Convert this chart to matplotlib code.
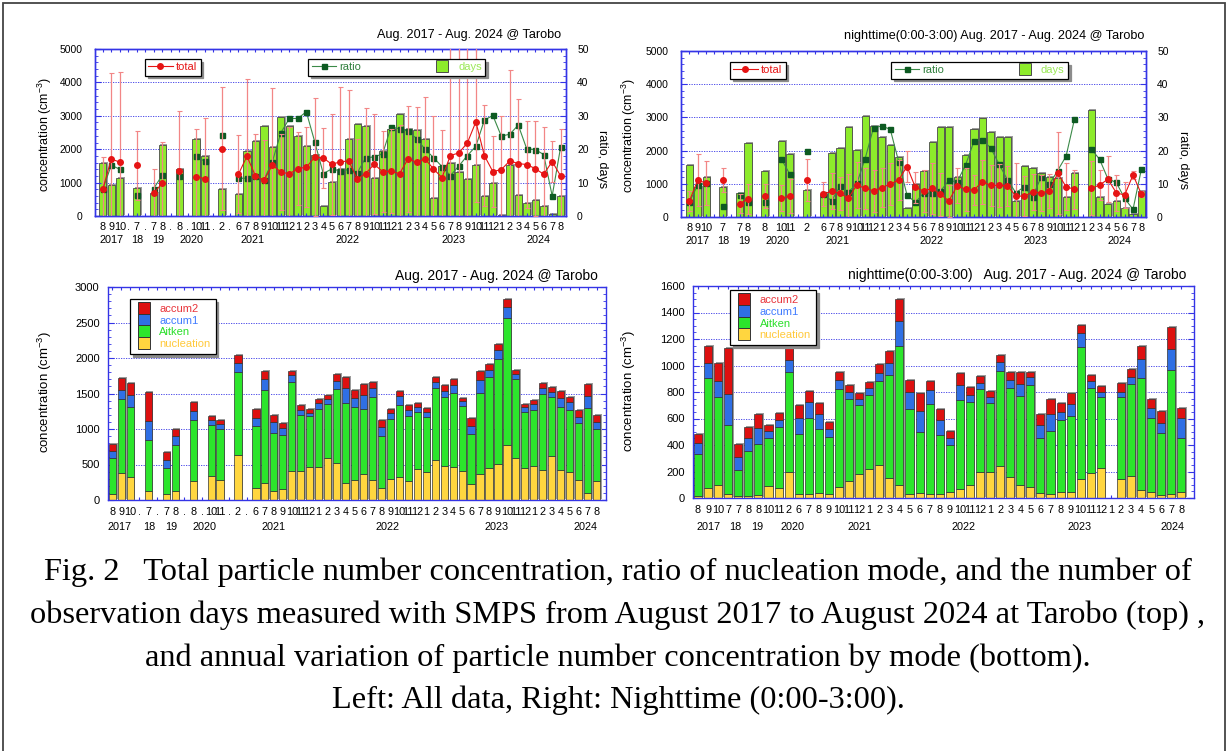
import numpy as np
import matplotlib
matplotlib.use('Agg')
import matplotlib.pyplot as plt
import matplotlib.transforms as mtransforms
from matplotlib.lines import Line2D
from matplotlib.patches import Rectangle
from matplotlib.ticker import MultipleLocator

plt.rcParams['font.family'] = ['Liberation Sans', 'DejaVu Sans']
plt.rcParams['mathtext.default'] = 'regular'

nan = np.nan

# month slots, '.' marks skipped months (55 slots, top + bottom-left)
months_all = ['8', '9', '10', '.', '7', '.', '7', '8', '.', '8', '.', '10', '11', '.', '2', '.',
              '6', '7', '8', '9', '10', '11', '12',
              '1', '2', '3', '4', '5', '6', '7', '8', '9', '10', '11', '12',
              '1', '2', '3', '4', '5', '6', '7', '8', '9', '10', '11', '12',
              '1', '2', '3', '4', '5', '6', '7', '8']
months_night = [m if m != '.' else '' for m in months_all]
# bottom-right has no gap slots (49 slots)
months_br = ['8', '9', '10', '7', '7', '8', '8', '10', '11', '2',
             '6', '7', '8', '9', '10', '11', '12',
             '1', '2', '3', '4', '5', '6', '7', '8', '9', '10', '11', '12',
             '1', '2', '3', '4', '5', '6', '7', '8', '9', '10', '11', '12',
             '1', '2', '3', '4', '5', '6', '7', '8']

years_tl = [(1.0, '2017'), (4.06, '18'), (6.5, '19'), (10.5, '2020'), (17.7, '2021'),
            (28.9, '2022'), (41.4, '2023'), (51.4, '2024')]
years_bl = [(0.76, '2017'), (4.16, '18'), (6.6, '19'), (10.3, '2020'), (18.0, '2021'),
            (30.7, '2022'), (42.8, '2023'), (52.8, '2024')]
years_br = [(1.0, '2017'), (3.7, '18'), (5.9, '19'), (9.4, '2020'), (16.0, '2021'),
            (26.4, '2022'), (37.9, '2023'), (47.1, '2024')]

# ---- top left: all data ----
days_all = [16, 9.3, 11.5, nan, 8.5, nan, 7, 21.4, nan, 14.1, nan, 23, 18, nan, 8.1, nan,
            6.7, 19.5, 22.5, 27, 20.7, 29.5, 26.8,
            24.1, 20.9, 18.2, 3, 10.2, 14, 23, 27.4, 26.8, 11.5, 19.6, 25.9,
            30.4, 25.9, 25.8, 23.2, 5.4, 15, 15.9, 13.1, 11.1, 15.4, 6.1, 10,
            0.3, 15.4, 6.4, 4, 4.9, 3, 0.7, 6]
total_all = [800, 1710, 1610, nan, 1520, nan, 680, 980, nan, 1350, nan, 1180, 1120, nan, 2020, nan,
             1250, 1790, 1200, 1070, 1520, 1320, 1260,
             1420, 1460, 1760, 1740, 1550, 1620, 1650, 1110, 1270, 1550, 1330, 1340,
             1270, 1710, 1610, 1710, 1410, 1150, 1810, 1890, 2190, 2820, 1810, 1330,
             1390, 1650, 1570, 1540, 1420, 1250, 1630, 1200]
total_all_err = [970, 2570, 2700, nan, 1030, nan, 720, 1240, nan, 1780, nan, 1430, 1820, nan, 1830, nan,
                 1170, 2310, 1260, 1200, 2310, 1150, 1410,
                 1100, 1200, 1770, 900, 1510, 2240, 2120, 1200, 1970, 1490, 1210, 1250,
                 1450, 1590, 1650, 1850, 1580, 1410, 3400, 3300, 3000, 2400, 1500, 1060,
                 1610, 2710, 1920, 1300, 1420, 1420, 610, 1390]
ratio_all = [8.0, 15.2, 14.0, nan, 6.2, nan, 8.2, 12.2, nan, 11.9, nan, 17.9, 16.4, nan, 24.2, nan,
             11.3, 11.3, 12.0, 10.8, 16.3, 24.9, 29.2,
             29.2, 31.2, 22.2, 12.7, 14.1, 13.5, 13.9, 12.9, 17.4, 17.7, 18.6, 26.7,
             26.1, 25.4, 23.2, 20.0, 17.5, 14.8, 12.1, 15.0, 18.1, 20.9, 28.7, 30.1,
             23.9, 24.5, 27.2, 20.1, 19.9, 18.4, 6.0, 20.7]

# ---- top right: nighttime ----
days_night = [15.7, 9.1, 11.9, nan, 9.1, nan, 7.3, 22.3, nan, 13.9, nan, 22.9, 19.0, nan, 8.1, nan,
              6.8, 19.3, 20.9, 27.0, 20.1, 30.4, 27.4,
              24.1, 21.8, 18.0, 2.7, 9.8, 13.9, 22.7, 27.0, 27.2, 12.0, 18.6, 26.6,
              29.9, 25.6, 24.0, 24.0, 4.9, 15.5, 14.9, 13.2, 11.9, 11.7, 5.9, 13.4,
              nan, 32.2, 6.1, 3.8, 4.9, 2.7, 1.0, 7.7]
total_night = [477, 1115, 1014, nan, 1115, nan, 405, 537, nan, 629, nan, 568, 629, nan, 1115, nan,
               690, 781, 710, 568, 963, 862, 791,
               882, 994, 1115, 1521, 892, 781, 862, 679, 487, 943, 831, 811,
               1065, 953, 953, 943, 629, 629, 750, 730, 781, 1318, 913, 831,
               nan, 862, 963, 1136, 730, 659, 1268, 690]
total_night_err = [293, 791, 659, nan, 375, nan, 275, 447, nan, 355, nan, 395, 507, nan, 629, nan,
                   354, 537, 486, 720, 690, 618, 629,
                   588, 628, 600, 456, 457, 639, 760, 639, 476, 527, 639, 457,
                   659, 619, 649, 600, 990, 600, 548, 550, 500, 1237, 700, 589,
                   nan, 811, 457, 689, 538, 400, 130, 100]
ratio_night = [4.5, 9.6, 10.3, nan, 3.2, nan, 6.6, 4.6, nan, 4.6, nan, 17.4, 12.9, nan, 19.9, nan,
               6.9, 4.9, 9.3, 7.5, 10.1, 17.6, 26.9,
               27.4, 26.4, 16.7, 6.6, 4.4, 7.3, 7.1, 7.8, 11.0, 10.6, 15.7, 22.8,
               23.3, 20.8, 15.9, 11.2, 7.3, 9.1, 6.1, 11.9, 9.8, 14.0, 18.3, 29.4,
               nan, 20.5, 17.4, 11.5, 10.4, 5.6, 2.3, 14.4]

# ---- bottom left: modes, all data ----
nuc_all = [80, 377, 320, nan, 122, nan, 85, 132, nan, 264, nan, 334, 278, nan, 631, nan,
           165, 235, 122, 151, 414, 414, 466,
           466, 589, 523, 235, 278, 367, 278, 174, 301, 325, 268, 433,
           400, 560, 476, 466, 405, 226, 363, 447, 504, 772, 589, 452,
           476, 419, 617, 419, 400, 278, 104, 268]
ait_all = [509, 1041, 989, nan, 726, nan, 372, 645, nan, 862, nan, 721, 725, nan, 1173, nan,
           871, 1310, 820, 763, 1253, 782, 712,
           815, 763, 1041, 1131, 1031, 909, 1168, 721, 834, 1013, 914, 810,
           768, 1018, 979, 1046, 919, 702, 1149, 1286, 1479, 1795, 1116, 791,
           791, 1069, 838, 886, 867, 810, 1191, 726]
acc1_all = [103, 127, 170, nan, 268, nan, 103, 118, nan, 132, nan, 71, 66, nan, 127, nan,
            118, 160, 155, 99, 90, 76, 47,
            80, 66, 108, 212, 132, 203, 132, 132, 85, 132, 90, 62,
            71, 85, 85, 113, 70, 113, 174, 99, 127, 155, 71, 62,
            80, 85, 62, 136, 113, 85, 170, 99]
acc2_all = [95, 174, 165, nan, 405, nan, 114, 103, nan, 127, nan, 52, 61, nan, 118, nan,
            122, 108, 104, 66, 66, 66, 61,
            61, 66, 104, 160, 109, 155, 85, 99, 61, 70, 66, 56,
            61, 66, 76, 85, 43, 113, 137, 80, 90, 113, 56, 47,
            66, 75, 70, 99, 71, 89, 174, 103]

# ---- bottom right: modes, nighttime ----
nuc_night = [13, 75, 100, 30, 13, 13, 20, 88, 75, 196,
             30, 30, 38, 30, 83, 128, 181,
             218, 251, 150, 95, 30, 38, 30, 30, 43, 70, 100, 196,
             196, 238, 158, 100, 80, 38, 30, 43, 48, 143, 188, 226,
             nan, 143, 166, 63, 43, 25, 30, 45]
ait_night = [318, 833, 665, 519, 195, 338, 389, 363, 459, 752,
             452, 572, 481, 429, 737, 617, 521,
             559, 632, 778, 1049, 640, 459, 677, 447, 358, 670, 627, 624,
             524, 720, 675, 670, 773, 416, 477, 546, 574, 993, 645, 539,
             nan, 617, 692, 845, 564, 464, 936, 406]
acc1_night = [83, 113, 120, 234, 100, 100, 118, 56, 53, 93,
              120, 120, 113, 58, 70, 53, 43,
              51, 57, 90, 195, 133, 163, 106, 112, 55, 113, 50, 50,
              40, 65, 57, 90, 62, 95, 125, 63, 85, 108, 50, 38,
              nan, 43, 55, 140, 75, 75, 158, 156]
acc2_night = [68, 123, 136, 346, 98, 83, 105, 45, 53, 88,
              100, 83, 85, 55, 63, 55, 45,
              47, 71, 91, 166, 90, 130, 67, 83, 46, 87, 61, 50,
              48, 55, 58, 88, 33, 86, 115, 63, 83, 65, 45, 42,
              nan, 67, 60, 98, 65, 96, 163, 75]

BLUE = '#3434E6'
DAYS_C = '#8DEB2B'
RED = '#E61414'
W, H = 1228, 751

fig = plt.figure(figsize=(W / 100, H / 100), dpi=100)


def px_axes(l, t, r, b):
    return fig.add_axes([l / W, 1 - b / H, (r - l) / W, (b - t) / H])


def blue_frame(a):
    for s in a.spines.values():
        s.set_color(BLUE)
        s.set_linewidth(1.0)


def month_axis(ax, labels, xlim, years, year_y, pad):
    ax.set_xlim(*xlim)
    ax.set_xticks(np.arange(len(labels)))
    ax.set_xticklabels(labels, fontsize=7.8)
    ax.tick_params(axis='x', direction='in', length=2.5, width=0.8, color=BLUE, top=True, pad=pad)
    tr = mtransforms.blended_transform_factory(ax.transData, ax.transAxes)
    for pos, yr in years:
        ax.text(pos, year_y, yr, transform=tr, ha='center', va='center', fontsize=7.8)


def top_panel(rect, labels, xlim, days, total, total_err, ratio, title, title_xy,
              years, leg1_x, leg2_x, leg_y, ylab_x, y2lab_x):
    ax = px_axes(*rect)
    ax2 = ax.twinx()
    ax.set_zorder(ax2.get_zorder() + 1)
    ax.patch.set_visible(False)
    x = np.arange(len(labels))
    days = np.asarray(days, float)
    ok = np.isfinite(days)
    sh = mtransforms.offset_copy(ax2.transData, fig=fig, x=1.5, y=1.0, units='dots')
    ax2.bar(x[ok], days[ok], 0.85, color='#9c9c9c', transform=sh, zorder=1)
    ax2.bar(x[ok], days[ok], 0.85, color=DAYS_C, edgecolor='#4a4a4a', linewidth=0.6, zorder=2)
    ax2.plot(x, ratio, color='#3b8a48', lw=0.8, marker='s', ms=3.6,
             mfc='#0d5a22', mec='#0d5a22', zorder=3)
    ax.errorbar(x, total, yerr=total_err, fmt='none', ecolor='#F28686',
                elinewidth=0.9, capsize=1.8, capthick=0.8, zorder=3)
    ax.plot(x, total, color=RED, lw=0.8, marker='o', ms=4, zorder=4)

    ax.set_ylim(0, 5000)
    ax2.set_ylim(0, 50)
    ax.yaxis.set_major_locator(MultipleLocator(1000))
    ax.yaxis.set_minor_locator(MultipleLocator(200))
    ax2.yaxis.set_major_locator(MultipleLocator(10))
    ax2.yaxis.set_minor_locator(MultipleLocator(2))
    ax2.set_axisbelow(True)
    ax2.yaxis.grid(True, which='major', color=BLUE, lw=0.6, ls=(0, (1.5, 1.5)))
    ax.tick_params(axis='y', which='both', direction='in', color=BLUE, labelsize=7.4, pad=9)
    ax.tick_params(axis='y', which='major', length=4, width=0.8)
    ax.tick_params(axis='y', which='minor', length=2, width=0.6)
    ax2.tick_params(axis='y', which='both', direction='in', color=BLUE, labelsize=7.4, pad=8)
    ax2.tick_params(axis='y', which='major', length=4, width=0.8)
    ax2.tick_params(axis='y', which='minor', length=2, width=0.6)
    blue_frame(ax)
    blue_frame(ax2)
    month_axis(ax, labels, xlim, years, -0.144, 4)

    ax.set_ylabel('concentration (cm$^{-3}$)', fontsize=9, va='center', ha='center')
    ax.yaxis.set_label_coords(ylab_x, 0.49)
    ax2.set_ylabel('ratio, days', fontsize=9, rotation=-90, va='center', ha='center')
    ax2.yaxis.set_label_coords(y2lab_x, 0.34)
    ax.text(title_xy[0], title_xy[1], title, transform=ax.transAxes,
            ha='right', va='center', fontsize=9.1)

    h_total = Line2D([], [], color=RED, lw=0.8, marker='o', ms=4)
    leg1 = ax.legend([h_total], ['total'], loc='upper left', bbox_to_anchor=(leg1_x, leg_y),
                     borderaxespad=0, fontsize=8, frameon=True, fancybox=False, framealpha=1,
                     edgecolor='black', shadow={'color': '0.55', 'alpha': 1},
                     handlelength=2.2, handletextpad=0.3, borderpad=0.3, labelcolor=RED)
    leg1.get_frame().set_linewidth(0.9)
    ax.add_artist(leg1)
    h_ratio = Line2D([], [], color='#3b8a48', lw=0.8, marker='s', ms=3.6, mfc='#0d5a22', mec='#0d5a22')
    h_days = Line2D([], [], ls='none', marker='s', ms=8, mfc=DAYS_C, mec='#4a4a4a', mew=0.7)
    leg2 = ax.legend([h_ratio, h_days], ['ratio', 'days'], ncol=2, loc='upper left',
                     bbox_to_anchor=(leg2_x, leg_y), borderaxespad=0, fontsize=8, frameon=True,
                     fancybox=False, framealpha=1, edgecolor='black',
                     shadow={'color': '0.55', 'alpha': 1}, handlelength=2.2, handletextpad=0.3,
                     borderpad=0.3, columnspacing=6.2)
    leg2.get_frame().set_linewidth(0.9)
    for t, c in zip(leg2.get_texts(), ['#2f7f3c', '#9BE857']):
        t.set_color(c)
    return ax


def mode_panel(rect, labels, xlim, parts, ymax, major, minor, title, title_xy,
               years, year_y, leg_xy, ylab_x):
    ax = px_axes(*rect)
    x = np.arange(len(labels))
    parts = [np.asarray(p, float) for p in parts]
    tops = np.cumsum(parts, axis=0)
    ok = np.isfinite(tops[-1])
    sh = mtransforms.offset_copy(ax.transData, fig=fig, x=1.5, y=1.0, units='dots')
    ax.bar(x[ok], tops[-1][ok], 0.8, color='#9c9c9c', transform=sh, zorder=1)
    colors = ['#FFD63F', '#2CE52C', '#2F6FE4', '#DD1010']
    bottom = np.zeros(ok.sum())
    for p, c in zip(parts, colors):
        ax.bar(x[ok], p[ok], 0.8, bottom=bottom, color=c, edgecolor='#333333',
               linewidth=0.5, zorder=2)
        bottom = bottom + p[ok]

    ax.set_ylim(0, ymax)
    ax.yaxis.set_major_locator(MultipleLocator(major))
    ax.yaxis.set_minor_locator(MultipleLocator(minor))
    ax.set_axisbelow(True)
    ax.yaxis.grid(True, which='major', color=BLUE, lw=0.6, ls=(0, (1.5, 1.5)))
    ax.tick_params(axis='y', which='both', direction='in', color=BLUE, labelsize=8, pad=6,
                   right=True)
    ax.tick_params(axis='y', which='major', length=4, width=0.8)
    ax.tick_params(axis='y', which='minor', length=2, width=0.6)
    blue_frame(ax)
    month_axis(ax, labels, xlim, years, year_y, 5)

    ax.set_ylabel('concentration (cm$^{-3}$)', fontsize=9.5, va='center', ha='center')
    ax.yaxis.set_label_coords(ylab_x, 0.505)
    ax.text(title_xy[0], title_xy[1], title, transform=ax.transAxes,
            ha='right', va='center', fontsize=10)

    handles = [Line2D([], [], ls='none', marker='s', ms=8.5, mfc=c, mec='#333333', mew=0.7)
               for c in colors[::-1]]
    leg = ax.legend(handles, ['accum2', 'accum1', 'Aitken', 'nucleation'], loc='upper left',
                    bbox_to_anchor=leg_xy, borderaxespad=0, fontsize=8, frameon=True,
                    fancybox=False, framealpha=1, edgecolor='black',
                    shadow={'color': '0.55', 'alpha': 1}, handlelength=1.6,
                    handletextpad=0.6, borderpad=0.45, labelspacing=0.15)
    leg.get_frame().set_linewidth(0.9)
    for t, c in zip(leg.get_texts(), ['#E8343A', '#3F7BFF', '#2ADF2A', '#FFC93A']):
        t.set_color(c)
    return ax


top_panel((95, 49, 566, 216), months_all, (-0.92, 54.63), days_all, total_all, total_all_err,
          ratio_all, 'Aug. 2017 - Aug. 2024 @ Tarobo', (0.989, 1.084), years_tl,
          0.106, 0.453, 0.94, -0.106, 1.076)
top_panel((681, 51, 1146, 217), months_night, (-1.0, 54.55), days_night, total_night,
          total_night_err, ratio_night, 'nighttime(0:00-3:00) Aug. 2017 - Aug. 2024 @ Tarobo',
          (0.996, 1.09), years_tl, 0.105, 0.452, 0.934, -0.112, 1.080)
mode_panel((108, 287, 606, 500), months_all, (-0.5, 55.05),
           [nuc_all, ait_all, acc1_all, acc2_all], 3000, 500, 100,
           'Aug. 2017 - Aug. 2024 @ Tarobo', (0.984, 1.052), years_bl, -0.127,
           (0.044, 0.944), -0.127)
mode_panel((693, 286, 1194, 498), months_br, (-0.5, 49.25),
           [nuc_night, ait_night, acc1_night, acc2_night], 1600, 200, 50,
           'nighttime(0:00-3:00)   Aug. 2017 - Aug. 2024 @ Tarobo', (0.984, 1.052), years_br,
           -0.137, (0.074, 0.98), -0.128)

caption = ['Fig. 2   Total particle number concentration, ratio of nucleation mode, and the number of',
           'observation days measured with SMPS from August 2017 to August 2024 at Tarobo (top) ,',
           'and annual variation of particle number concentration by mode (bottom).',
           'Left: All data, Right: Nighttime (0:00-3:00).']
for yy, line in zip([572, 615, 658, 700], caption):
    fig.text(618 / W, 1 - yy / H, line, ha='center', va='center', fontsize=23.3,
             family=['Liberation Serif', 'DejaVu Serif'])

fig.add_artist(Rectangle((2.5 / W, -0.01), (1225 - 2.5) / W, 1.01 - 2.5 / H,
                         transform=fig.transFigure, fill=False, ec='#444444', lw=1.3))

fig.savefig('out.png', dpi=100)
